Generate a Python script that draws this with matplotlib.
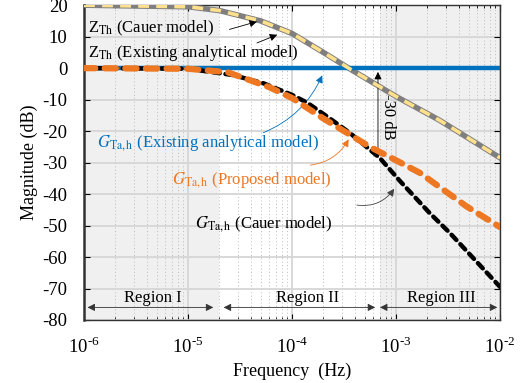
import numpy as np
import matplotlib
matplotlib.use('Agg')
import matplotlib.pyplot as plt
from matplotlib import ticker

# data (frequency in Hz, magnitude in dB)
zth_freq = [1e-6, 1e-5, 2e-5, 5e-5, 1e-4, 2e-4, 3.5e-4, 1e-3, 2.6e-3, 1e-2]
zth_mag = [20, 19.5, 18.3, 15, 11, 5, 0, -9, -16.5, -28.5]

g_exist_freq = [1e-6, 1e-2]
g_exist_mag = [0, 0]

g_prop_freq = [1e-6, 1e-5, 2.4e-5, 6e-5, 1e-4, 2e-4, 5.6e-4, 1.1e-3, 1.7e-3,
               4.8e-3, 1e-2]
g_prop_mag = [0, -0.2, -1.3, -6, -9.5, -16, -25, -30, -33.3, -44, -50.5]

g_cauer_freq = [1e-6, 1e-5, 2.7e-5, 5.3e-5, 1e-4, 1.4e-4, 2.2e-4, 3.6e-4,
                7e-4, 1.1e-3, 2.1e-3, 3.3e-3, 1e-2]
g_cauer_mag = [0, -0.2, -2.2, -4.8, -8.5, -11, -15.5, -20.6, -28.6, -36,
               -46, -52.4, -69.5]

region_labels = ['Region I', 'Region II', 'Region III']
region_bounds = [(1.08e-6, 1.75e-5), (2.2e-5, 6.3e-4), (7e-4, 9.4e-3)]
region_text_x = [4.6e-6, 1.4e-4, 2.7e-3]
shaded_spans = [(1e-6, 2e-5), (7e-4, 1e-2)]

blue = '#0072BD'
orange = '#EE7722'

plt.rcParams['font.family'] = ['Liberation Serif', 'DejaVu Serif']
plt.rcParams['mathtext.fontset'] = 'stix'


def log_label(v, p):
    e = int(round(np.log10(v)))
    return r'10$^{\mathregular{%s}}$' % (('\u2010' if e < 0 else '') + str(abs(e)))


fig = plt.figure(figsize=(5.22, 3.83), dpi=100)
ax = fig.add_axes([0.161, 0.1645, 0.797, 0.822])

for lo, hi in shaded_spans:
    ax.axvspan(lo, hi, color='#f0f0f0', zorder=0, lw=0)

ax.set_xscale('log')
ax.set_xlim(1e-6, 1e-2)
ax.set_ylim(-80, 20)
ax.set_yticks(np.arange(-80, 21, 10))
ax.yaxis.set_major_formatter(ticker.FuncFormatter(lambda v, p: '%d' % v))
ax.xaxis.set_major_locator(ticker.LogLocator(base=10, numticks=10))
ax.xaxis.set_major_formatter(ticker.FuncFormatter(log_label))
ax.xaxis.set_minor_locator(ticker.LogLocator(base=10, subs=np.arange(2, 10),
                                             numticks=50))
ax.xaxis.set_minor_formatter(ticker.NullFormatter())
ax.grid(True, which='major', color='#d6d6d6', lw=1.3, zorder=1)
ax.grid(True, which='minor', axis='x', color='#bbbbbb', lw=0.7,
        linestyle=(0, (1, 2.5)), zorder=1)
ax.set_axisbelow(True)
ax.tick_params(direction='in', which='both', top=True, right=True,
               length=4)
ax.tick_params(axis='y', labelsize=13.5, pad=12)
ax.tick_params(axis='x', labelsize=13.5, pad=12)
ax.tick_params(which='minor', length=2)
for s in ax.spines.values():
    s.set_color('#333333')
    s.set_linewidth(1.0)
ax.spines['left'].set_linewidth(1.8)

# curves
ax.plot(zth_freq, zth_mag, color='#7f7f7f', lw=4, zorder=3)
ax.plot(zth_freq, zth_mag, color='#ffe08c', lw=2.6, zorder=4,
        linestyle=(0, (3, 2)))
ax.plot(g_exist_freq, g_exist_mag, color=blue, lw=3.2, zorder=3)
ax.plot(g_cauer_freq, g_cauer_mag, color='black', lw=3.2, zorder=5,
        linestyle=(0, (1.6, 1.3)), dash_capstyle='round')
ax.plot(g_prop_freq, g_prop_mag, color=orange, lw=4.5, zorder=6,
        linestyle=(0, (1.8, 1.5)), dash_capstyle='round')

fs = 12
arrow_k = dict(arrowstyle='-|>', color='black', lw=0.6, mutation_scale=11,
               shrinkA=0, shrinkB=0)

ax.text(1.1e-6, 11.4, r'Z$_{\rm Th}$ (Cauer model)', fontsize=fs,
        va='baseline', ha='left')
ax.annotate('', xy=(4.6e-5, 14.8), xytext=(2.5e-5, 12.3),
            arrowprops=arrow_k)
ax.text(1.1e-6, 3.5, r'Z$_{\rm Th}$ (Existing analytical model)',
        fontsize=fs, va='baseline', ha='left')
ax.annotate('', xy=(7.2e-5, 10.6), xytext=(4.6e-5, 8.0),
            arrowprops=arrow_k)

ax.text(1.33e-6, -25.1, r'$G_{\rm Ta,h}$ (Existing analytical model)',
        fontsize=fs, va='baseline', ha='left', color=blue)
ax.annotate('', xy=(1.95e-4, -2.3), xytext=(5.3e-5, -20.5),
            arrowprops=dict(arrowstyle='-|>', color=blue, lw=0.6,
                            mutation_scale=11, shrinkA=0, shrinkB=0,
                            connectionstyle='arc3,rad=0.2'))

ax.text(7.0e-6, -36.8, r'$G_{\rm Ta,h}$ (Proposed model)', fontsize=fs,
        va='baseline', ha='left', color=orange)
ax.annotate('', xy=(3.5e-4, -22.6), xytext=(1.5e-4, -30.8),
            arrowprops=dict(arrowstyle='-|>', color=orange, lw=0.6,
                            mutation_scale=11, shrinkA=0, shrinkB=0,
                            connectionstyle='arc3,rad=0.25'))

ax.text(1.17e-5, -50.8, r'$G_{\rm Ta,h}$ (Cauer model)', fontsize=fs,
        va='baseline', ha='left', color='black')
ax.annotate('', xy=(9.6e-4, -38.3), xytext=(4.2e-4, -43.5),
            arrowprops=dict(arrowstyle='-|>', color='#444444', lw=0.6,
                            mutation_scale=11, shrinkA=0, shrinkB=0,
                            connectionstyle='arc3,rad=0.3'))

# -30 dB marker
ax.annotate('', xy=(6.7e-4, -1.2), xytext=(6.7e-4, -28.6),
            arrowprops=dict(arrowstyle='<|-|>', color='black', lw=0.6,
                            mutation_scale=11, shrinkA=0, shrinkB=0))
ax.text(8.4e-4, -15.5, '-30 dB', fontsize=fs, rotation=-90, va='center',
        ha='center')

# regions
for lab, (lo, hi), tx in zip(region_labels, region_bounds, region_text_x):
    ax.annotate('', xy=(hi, -76), xytext=(lo, -76),
                arrowprops=dict(arrowstyle='<|-|>', color='#333333', lw=0.6,
                                mutation_scale=11, shrinkA=0, shrinkB=0))
    ax.text(tx, -74.2, lab, fontsize=fs, ha='center', va='baseline')

ax.set_xlabel('Frequency  (Hz)', fontsize=13, labelpad=4)
ax.set_ylabel('Magnitude (dB)', fontsize=13, labelpad=3)

fig.savefig('out.png', dpi=100)
